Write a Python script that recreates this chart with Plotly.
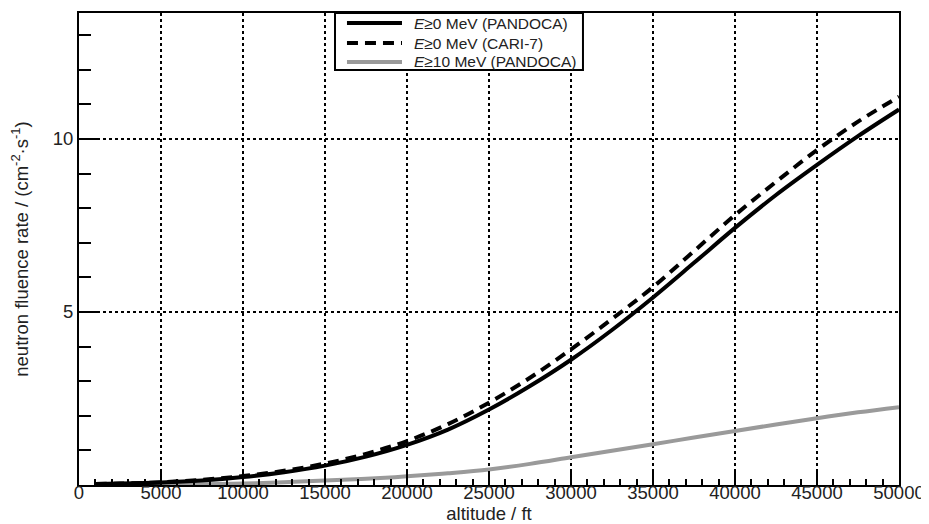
import plotly.graph_objects as go

altitude_ft = [1000, 2500, 5000, 7500, 10000, 12500, 15000, 17500, 20000, 22500, 25000,
               27500, 30000, 32500, 35000, 37500, 40000, 42500, 45000, 47500, 50000]
pandoca_e0 = [0.03, 0.04, 0.07, 0.13, 0.23, 0.37, 0.56, 0.82, 1.16, 1.60, 2.18,
              2.86, 3.62, 4.48, 5.42, 6.42, 7.43, 8.38, 9.25, 10.08, 10.85]
cari7_e0 = [0.03, 0.04, 0.08, 0.15, 0.26, 0.41, 0.62, 0.90, 1.27, 1.76, 2.38,
            3.10, 3.92, 4.80, 5.72, 6.76, 7.80, 8.76, 9.68, 10.50, 11.22]
pandoca_e10 = [0.005, 0.007, 0.01, 0.02, 0.04, 0.08, 0.13, 0.18, 0.25, 0.34, 0.45,
               0.61, 0.80, 0.99, 1.18, 1.37, 1.56, 1.75, 1.93, 2.10, 2.25]

legend_names = ["<i>E</i>≥0 MeV (PANDOCA)", "<i>E</i>≥0 MeV (CARI-7)", "<i>E</i>≥10 MeV (PANDOCA)"]
x_ticks = [0, 5000, 10000, 15000, 20000, 25000, 30000, 35000, 40000, 45000, 50000]
x_ticktext = [str(v) for v in x_ticks]
y_ticks = [0, 5, 10]
y_ticktext = ["", "5", "10"]

font_family = "Liberation Sans, Arial, sans-serif"
text_color = "#222"
axis_font = 18.5

series_styles = [
    dict(color="black", width=4, dash="solid"),
    dict(color="black", width=4, dash="11px,7px"),
    dict(color="#9a9a9a", width=4, dash="solid"),
]
series_values = [pandoca_e0, cari7_e0, pandoca_e10]

fig = go.Figure()
for i in [2, 1, 0]:
    st = series_styles[i]
    fig.add_trace(go.Scatter(
        x=altitude_ft, y=series_values[i], mode="lines", name=legend_names[i],
        line=dict(color=st["color"], width=st["width"], dash=st["dash"], shape="spline"),
        showlegend=False))

# legend box drawn in paper coordinates
lg_x0, lg_x1, lg_y0, lg_y1 = 0.3122, 0.6146, 0.8795, 1.0
row_y = [0.9788, 0.9364, 0.8962]
sample_x0, sample_x1, text_x = 0.3268, 0.3939, 0.4061
shapes = [dict(type="rect", xref="paper", yref="paper", x0=lg_x0, x1=lg_x1, y0=lg_y0, y1=lg_y1,
               line=dict(color="black", width=2), fillcolor="white", layer="above")]
annotations = []
for i in range(3):
    st = series_styles[i]
    shapes.append(dict(type="line", xref="paper", yref="paper", x0=sample_x0, x1=sample_x1,
                       y0=row_y[i], y1=row_y[i], layer="above",
                       line=dict(color=st["color"], width=st["width"], dash=st["dash"])))
    annotations.append(dict(xref="paper", yref="paper", x=text_x, y=row_y[i], xanchor="left",
                            yanchor="middle", text=legend_names[i], showarrow=False,
                            font=dict(size=15.5, color=text_color, family=font_family)))

fig.update_layout(
    width=921, height=516,
    margin=dict(l=71, r=30, t=5, b=39, autoexpand=False),
    paper_bgcolor="white", plot_bgcolor="white",
    font=dict(family=font_family, size=axis_font, color=text_color),
    showlegend=False,
    shapes=shapes, annotations=annotations,
)

fig.update_xaxes(
    range=[0, 50000], tickmode="array", tickvals=x_ticks, ticktext=x_ticktext,
    ticks="inside", ticklen=14, tickwidth=2, tickcolor="black",
    showline=True, linecolor="black", linewidth=2, mirror=True,
    showgrid=True, gridcolor="black", griddash="dot", gridwidth=1.5,
    zeroline=False, automargin=False, ticklabelstandoff=-10,
    minor=dict(dtick=1000, tick0=0, ticks="inside", ticklen=6, tickwidth=1.5,
               tickcolor="black", showgrid=False),
    title=dict(text="altitude / ft", standoff=0, font=dict(size=axis_font)),
    tickfont=dict(size=axis_font),
)
fig.update_yaxes(
    range=[0, 13.64], tickmode="array", tickvals=y_ticks, ticktext=y_ticktext,
    ticks="inside", ticklen=20, tickwidth=2, tickcolor="black",
    showline=True, linecolor="black", linewidth=2, mirror=True,
    showgrid=True, gridcolor="black", griddash="dot", gridwidth=1.5,
    zeroline=False, automargin=False,
    minor=dict(dtick=1, tick0=0, ticks="inside", ticklen=12, tickwidth=1.5,
               tickcolor="black", showgrid=False),
    title=dict(text="neutron fluence rate / (cm<sup>-2</sup>·s<sup>-1</sup>)", standoff=20,
               font=dict(size=axis_font)),
    tickfont=dict(size=axis_font),
)

fig.write_html("out.html")
